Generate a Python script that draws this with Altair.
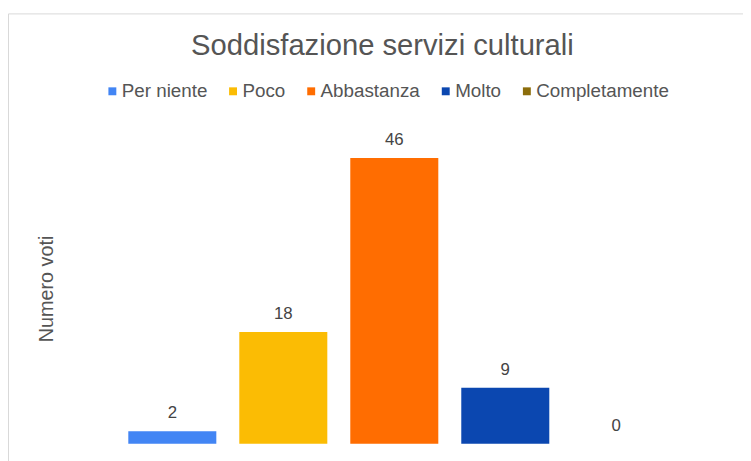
import altair as alt
import pandas as pd

categories = ["Per niente", "Poco", "Abbastanza", "Molto", "Completamente"]
votes = [2, 18, 46, 9, 0]
colors = ["#4285F4", "#FBBC04", "#FF6D01", "#0B47B0", "#8C6D0B"]
title_text = "Soddisfazione servizi culturali"
y_title = "Numero voti"

df = pd.DataFrame({"risposta": categories, "voti": votes})
frame_df = pd.DataFrame({"k": [0]})

FONT = "Liberation Sans"

x = alt.X("risposta:N", sort=categories,
          scale=alt.Scale(paddingInner=0.207, paddingOuter=0.1035), axis=None)
y = alt.Y("voti:Q", scale=alt.Scale(domain=[0, 50], nice=False, zero=True),
          axis=alt.Axis(labels=False, ticks=False, domain=False, grid=False,
                        title=y_title, titleX=-71, titleY=157, titleAngle=270,
                        titleAlign="center", titleBaseline="middle",
                        titleFont=FONT, titleFontSize=20, titleFontWeight="normal",
                        titleColor="#555555"))
color = alt.Color("risposta:N", sort=categories,
                  scale=alt.Scale(domain=categories, range=colors),
                  legend=alt.Legend(title=None, orient="none", legendX=-14, legendY=-52,
                                    direction="horizontal", symbolType="square",
                                    symbolSize=64, symbolStrokeWidth=0,
                                    labelFontSize=19, labelFont=FONT, labelColor="#555555",
                                    labelOffset=0, columnPadding=16))

bars = alt.Chart(df).mark_bar().encode(x=x, y=y, color=color)
labels = alt.Chart(df).mark_text(dy=-13, baseline="alphabetic", fontSize=17, font=FONT,
                                 color="#444444").encode(x=x, y=y, text="voti:Q")

left_line = alt.Chart(frame_df).mark_rule(color="#d9d9d9", strokeWidth=1).encode(
    x=alt.value(-109.5), y=alt.value(-120.5), y2=alt.value(340))
top_line = alt.Chart(frame_df).mark_rule(color="#d9d9d9", strokeWidth=1).encode(
    x=alt.value(-109.5), x2=alt.value(640), y=alt.value(-120.5))

chart = alt.layer(left_line, top_line, bars, labels).properties(
    width=561, height=314,
    title=alt.TitleParams(title_text, font=FONT, fontSize=29.5, fontWeight="normal",
                          color="#555555", anchor="middle", baseline="alphabetic",
                          offset=0, dx=-12, dy=72),
    autosize=alt.AutoSizeParams(type="none"),
    padding={"left": 110, "top": 124, "right": 72, "bottom": 15},
).configure(background="white").configure_view(stroke=None)

chart.save("out.html", embed_options={"renderer": "svg", "actions": False})
